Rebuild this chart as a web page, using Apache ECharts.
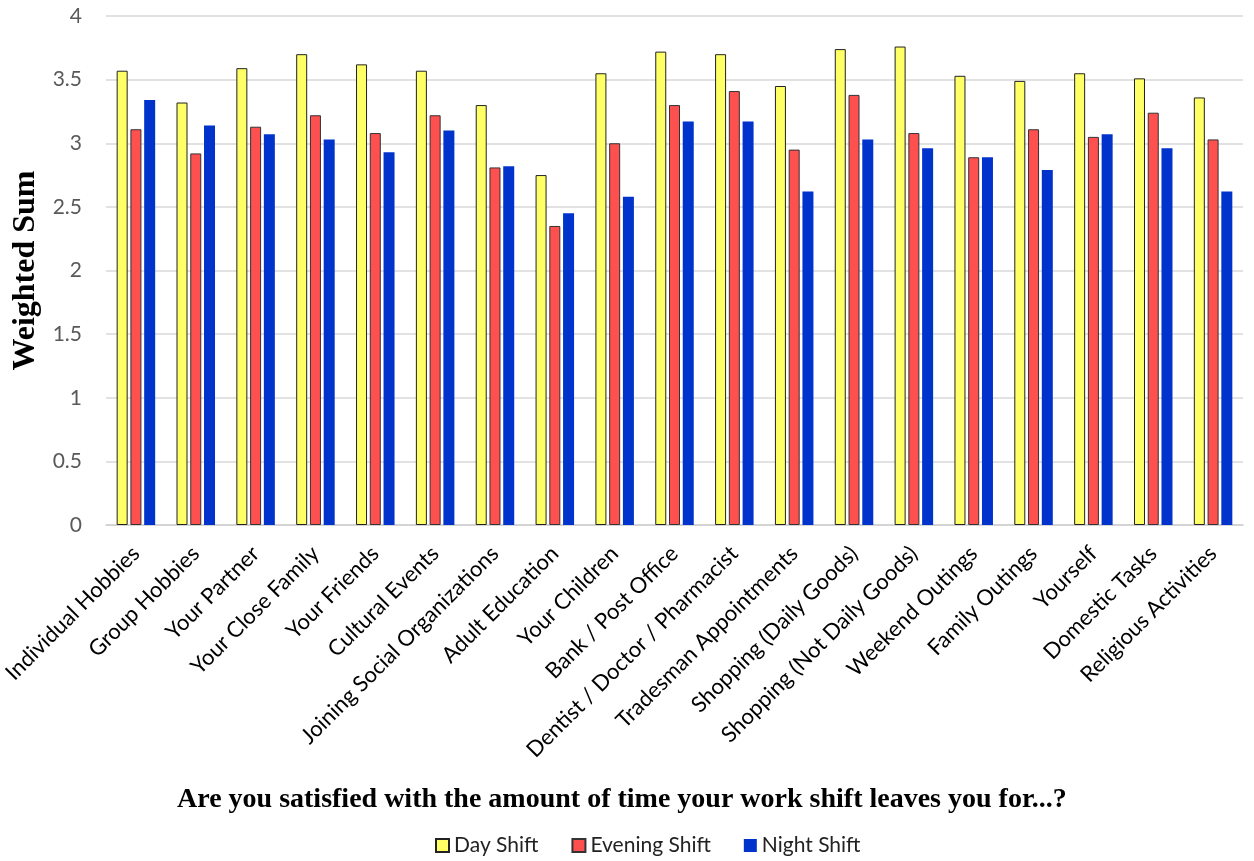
<!DOCTYPE html>
<html>
<head>
<meta charset="utf-8">
<script src="https://cdn.jsdelivr.net/npm/echarts@6/dist/echarts.min.js"></script>
<style>
html,body{margin:0;padding:0;background:#fff;}
#chart{width:1254px;height:861px;}
</style>
</head>
<body>
<div id="chart"></div>
<script>
// Activities asked about in the survey
const categories = [
  'Individual Hobbies', 'Group Hobbies', 'Your Partner', 'Your Close Family',
  'Your Friends', 'Cultural Events', 'Joining Social Organizations', 'Adult Education',
  'Your Children', 'Bank / Post Office', 'Dentist / Doctor / Pharmacist',
  'Tradesman Appointments', 'Shopping (Daily Goods)', 'Shopping (Not Daily Goods)',
  'Weekend Outings', 'Family Outings', 'Yourself', 'Domestic Tasks', 'Religious Activities'
];

// Weighted satisfaction sums per shift
const dayShift = [3.57, 3.32, 3.59, 3.70, 3.62, 3.57, 3.30, 2.75, 3.55, 3.72, 3.70, 3.45, 3.74, 3.76, 3.53, 3.49, 3.55, 3.51, 3.36];
const eveningShift = [3.11, 2.92, 3.13, 3.22, 3.08, 3.22, 2.81, 2.35, 3.00, 3.30, 3.41, 2.95, 3.38, 3.08, 2.89, 3.11, 3.05, 3.24, 3.03];
const nightShift = [3.34, 3.14, 3.07, 3.03, 2.93, 3.10, 2.82, 2.45, 2.58, 3.17, 3.17, 2.62, 3.03, 2.96, 2.89, 2.79, 3.07, 2.96, 2.62];

const seriesNames = ['Day Shift', 'Evening Shift', 'Night Shift'];
const yTicks = { min: 0, max: 4, step: 0.5 };

const chart = echarts.init(document.getElementById('chart'), null, { renderer: 'canvas' });

const sansFont = 'Lato, "Open Sans", sans-serif';
const serifFont = '"Liberation Serif", "DejaVu Serif", serif';

chart.setOption({
  animation: false,
  backgroundColor: '#ffffff',
  grid: { left: 106, right: 11, top: 16, bottom: 336, containLabel: false, outerBoundsMode: 'none' },
  title: {
    text: 'Are you satisfied with the amount of time your work shift leaves you for...?',
    left: 172,
    top: 781,
    textStyle: { fontFamily: serifFont, fontWeight: 'bold', fontSize: 28, color: '#000' }
  },
  legend: {
    data: seriesNames,
    top: 830,
    left: 430,
    icon: 'rect',
    itemWidth: 13,
    itemHeight: 13,
    itemGap: 33,
    textStyle: { fontFamily: sansFont, fontSize: 21, color: '#222' }
  },
  xAxis: {
    type: 'category',
    data: categories,
    axisLine: { show: true, lineStyle: { color: '#d0d0d0', width: 1.5 } },
    axisTick: { show: false },
    axisLabel: {
      interval: 0,
      rotate: 45,
      margin: 25,
      fontFamily: sansFont,
      fontSize: 22,
      color: '#000'
    }
  },
  yAxis: {
    type: 'value',
    min: yTicks.min,
    max: yTicks.max,
    interval: yTicks.step,
    name: 'Weighted Sum',
    nameLocation: 'middle',
    nameGap: 58,
    nameTextStyle: { fontFamily: serifFont, fontWeight: 'bold', fontSize: 32, color: '#000' },
    axisLine: { show: false },
    axisTick: { show: false },
    splitLine: { lineStyle: { color: '#d9d9d9', width: 1.5 } },
    axisLabel: { fontFamily: sansFont, fontSize: 21, color: '#595959', margin: 24 }
  },
  series: [
    {
      name: seriesNames[0],
      type: 'bar',
      data: dayShift,
      barWidth: 11,
      barGap: '25%',
      itemStyle: { color: '#FFFF66', borderColor: '#222', borderWidth: 1 }
    },
    {
      name: seriesNames[1],
      type: 'bar',
      data: eveningShift,
      barWidth: 11,
      barGap: '25%',
      itemStyle: { color: '#FF5050', borderColor: '#333', borderWidth: 1 }
    },
    {
      name: seriesNames[2],
      type: 'bar',
      data: nightShift,
      barWidth: 11,
      barGap: '25%',
      itemStyle: { color: '#0033CC' }
    }
  ]
});
</script>
</body>
</html>
